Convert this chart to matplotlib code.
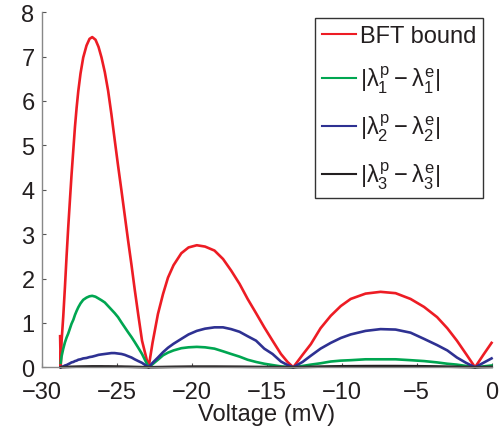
import numpy as np
import matplotlib
matplotlib.use("Agg")
import matplotlib.pyplot as plt

plt.rcParams['font.family'] = ['Liberation Sans', 'DejaVu Sans']
plt.rcParams['mathtext.fontset'] = 'custom'
plt.rcParams['mathtext.rm'] = 'Liberation Sans'
plt.rcParams['mathtext.it'] = 'Liberation Sans'
plt.rcParams['mathtext.bf'] = 'Liberation Sans:bold'

nan = np.nan

# voltage grid (mV)
volt = [-28.76, -28.72, -28.66, -28.55, -28.44, -28.33, -28.22, -28.1, -28.0, -27.88,
        -27.77, -27.66, -27.55, -27.4, -27.22, -27.0, -26.8, -26.62, -26.4, -26.2,
        -26.0, -25.78, -25.56, -25.34, -25.12, -24.9, -24.67, -24.45, -24.23, -24.0,
        -23.79, -23.55, -23.3, -23.08, -22.86,
        -22.6, -22.24, -21.9, -21.57, -21.2, -20.68, -20.2, -19.65, -19.1, -18.47,
        -17.9, -17.36, -16.8, -16.26, -15.7, -15.15, -14.6, -14.04, -13.6, -13.22,
        -12.6, -12.05, -11.4, -10.72, -10.05, -9.39, -8.4, -7.4, -6.4, -5.4,
        -4.5, -3.63, -2.95, -2.31, -1.7, -1.1, -0.55, 0.0]

bft_bound = [0.7, 0.0, 0.6, 1.15, 1.8, 2.5, 3.15, 3.8, 4.33, 4.9,
             5.42, 5.85, 6.22, 6.62, 6.98, 7.25, 7.4, 7.44, 7.38, 7.22,
             6.98, 6.65, 6.23, 5.7, 5.12, 4.55, 3.98, 3.42, 2.86, 2.3,
             1.76, 1.18, 0.6, 0.3, 0.0,
             0.55, 1.2, 1.65, 2.02, 2.3, 2.57, 2.7, 2.75, 2.72, 2.63,
             2.44, 2.18, 1.88, 1.54, 1.22, 0.9, 0.6, 0.3, 0.12, 0.0,
             0.28, 0.52, 0.88, 1.16, 1.38, 1.54, 1.66, 1.7, 1.67, 1.54,
             1.36, 1.13, 0.88, 0.6, 0.3, 0.0, 0.28, 0.55]

err1 = [nan, 0.1, 0.25, 0.42, 0.56, 0.67, 0.76, 0.88, 0.98, 1.07,
        1.18, 1.27, 1.35, 1.44, 1.52, 1.57, 1.6, 1.61, 1.59, 1.55,
        1.51, 1.46, 1.38, 1.3, 1.22, 1.13, 1.01, 0.9, 0.79, 0.68,
        0.57, 0.44, 0.3, 0.15, 0.0,
        0.07, 0.17, 0.27, 0.33, 0.38, 0.43, 0.45, 0.46, 0.45, 0.42,
        0.36, 0.3, 0.24, 0.17, 0.12, 0.08, 0.05, 0.02, 0.01, 0.0,
        0.03, 0.06, 0.09, 0.13, 0.15, 0.16, 0.18, 0.18, 0.18, 0.16,
        0.14, 0.11, 0.08, 0.06, 0.03, 0.0, 0.02, 0.04]

err2 = [nan, 0.0, 0.01, 0.02, 0.04, 0.05, 0.07, 0.09, 0.11, 0.12,
        0.14, 0.15, 0.17, 0.18, 0.2, 0.21, 0.23, 0.24, 0.26, 0.28,
        0.29, 0.3, 0.31, 0.32, 0.32, 0.31, 0.3, 0.28, 0.25, 0.22,
        0.18, 0.14, 0.1, 0.05, 0.0,
        0.1, 0.22, 0.34, 0.44, 0.53, 0.64, 0.74, 0.82, 0.87, 0.9,
        0.9, 0.86, 0.8, 0.7, 0.6, 0.42, 0.3, 0.13, 0.05, 0.0,
        0.12, 0.26, 0.42, 0.55, 0.66, 0.74, 0.82, 0.86, 0.85, 0.78,
        0.64, 0.5, 0.38, 0.22, 0.1, 0.0, 0.1, 0.2]

err3 = [nan, 0.0, 0.002, 0.004, 0.005, 0.007, 0.008, 0.01, 0.011, 0.012,
        0.013, 0.014, 0.015, 0.016, 0.017, 0.018, 0.019, 0.02, 0.02, 0.02,
        0.02, 0.019, 0.019, 0.018, 0.017, 0.016, 0.015, 0.013, 0.012, 0.01,
        0.008, 0.006, 0.004, 0.002, 0.0,
        0.002, 0.004, 0.006, 0.008, 0.01, 0.012, 0.014, 0.015, 0.015, 0.015,
        0.014, 0.013, 0.012, 0.01, 0.008, 0.007, 0.005, 0.003, 0.001, 0.0,
        0.005, 0.01, 0.015, 0.019, 0.022, 0.024, 0.026, 0.027, 0.027, 0.025,
        0.022, 0.018, 0.014, 0.01, 0.005, 0.0, 0.004, 0.008]

labels = ['BFT bound',
          r'$|\lambda^{\rm p}_1 - \lambda^{\rm e}_1|$',
          r'$|\lambda^{\rm p}_2 - \lambda^{\rm e}_2|$',
          r'$|\lambda^{\rm p}_3 - \lambda^{\rm e}_3|$']
colors = ['#ed1c24', '#00a651', '#2e3192', '#231f20']

fig = plt.figure(figsize=(5.02, 4.27), dpi=100)
ax = fig.add_axes([0.0827, 0.1375, 0.8965, 0.8315])

for ys, c, lab in zip([bft_bound, err1, err2, err3], colors, labels):
    ax.plot(volt, ys, color=c, lw=1.9, label=lab, clip_on=False,
            solid_joinstyle='round')

ax.set_xlim(-30, 0)
ax.set_ylim(0, 8)
ax.set_xticks(range(-30, 1, 5))
ax.set_yticks(range(0, 9))
ax.set_xticklabels(['\u221230', '\u221225', '\u221220', '\u221215', '\u221210', '\u22125', '0'])

for s in ['top', 'right']:
    ax.spines[s].set_visible(False)
for s in ['left', 'bottom']:
    ax.spines[s].set_color('#888888')
    ax.spines[s].set_linewidth(1.0)

ax.tick_params(direction='in', length=3, width=0.8, color='#555555',
               labelsize=17, labelcolor='#231f20', pad=5)
ax.tick_params(axis='x', pad=10)
ax.set_xlabel('Voltage (mV)', fontsize=17, color='#231f20', labelpad=0)

leg = ax.legend(loc='upper right', bbox_to_anchor=(0.981, 0.984), fontsize=17,
                frameon=True, fancybox=False, handlelength=1.4, handletextpad=0.17,
                borderpad=0.3, labelspacing=0.7, borderaxespad=0)
leg.get_frame().set_edgecolor('black')
leg.get_frame().set_linewidth(1.0)
for t in leg.get_texts():
    t.set_color('#231f20')
for h in leg.get_lines():
    h.set_linewidth(1.5)

fig.savefig('out.png', dpi=100)
